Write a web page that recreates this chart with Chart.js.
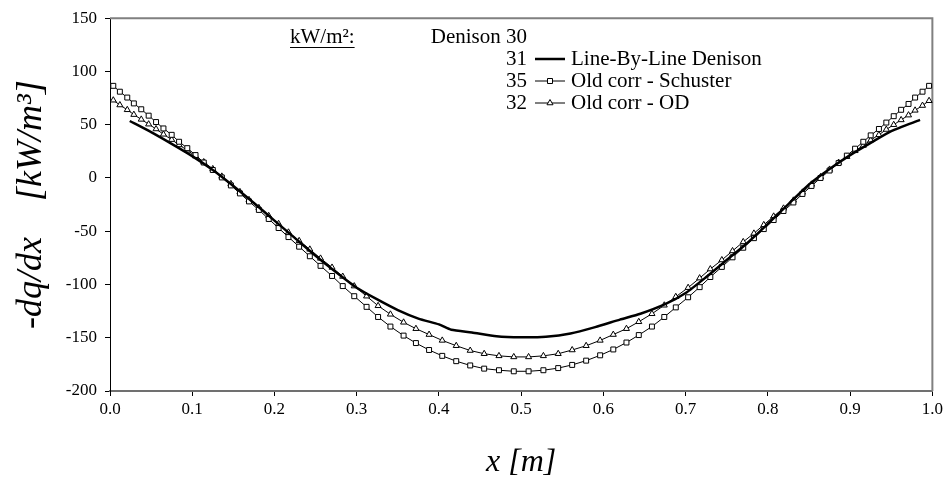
<!DOCTYPE html>
<html>
<head>
<meta charset="utf-8">
<script src="https://cdn.jsdelivr.net/npm/chart.js@4.4.1/dist/chart.umd.min.js"></script>
<style>
  html, body { margin: 0; padding: 0; background: #fff; }
  #chart { display: block; }
</style>
</head>
<body>
<canvas id="chart" width="946" height="497"></canvas>
<script>
// cell centres of the correlation runs (both use the same stretched grid)
var gridX = [
  0.004, 0.012, 0.021, 0.029, 0.038, 0.047, 0.056, 0.065, 0.075, 0.084,
  0.094, 0.104, 0.114, 0.125, 0.136, 0.147, 0.158, 0.169, 0.181, 0.193,
  0.205, 0.217, 0.230, 0.243, 0.256, 0.270, 0.283, 0.297, 0.312, 0.326,
  0.341, 0.357, 0.372, 0.388, 0.404, 0.421, 0.438, 0.455, 0.473, 0.491,
  0.509, 0.527, 0.545, 0.562, 0.579, 0.596, 0.612, 0.628, 0.643, 0.659,
  0.674, 0.688, 0.703, 0.717, 0.730, 0.744, 0.757, 0.770, 0.783, 0.795,
  0.807, 0.819, 0.831, 0.842, 0.853, 0.864, 0.875, 0.886, 0.896, 0.906,
  0.916, 0.925, 0.935, 0.944, 0.953, 0.962, 0.971, 0.979, 0.988, 0.996
];

var schusterY = [
  86.5, 81, 75.5, 70, 64.5, 58.5, 52.5, 46.5, 40.5, 34,
  28, 21.5, 14.5, 7.5, 0.5, -7, -14.5, -22, -30, -38.5,
  -47, -55.5, -64.5, -73.5, -82.5, -92, -101.5, -111, -121, -130.5,
  -139.5, -148, -155, -161.5, -167, -172, -176, -179, -180.5, -181.5,
  -181.5, -180.5, -178.5, -175.5, -171.5, -166.5, -161, -154.5, -147.5, -139.5,
  -130.5, -121.5, -112, -102.5, -93, -83.5, -74.5, -65.5, -56.5, -48,
  -39.5, -31, -23, -15, -7.5, 0, 7, 14, 21, 27.5,
  34, 40, 46, 52, 58, 64, 69.5, 75.5, 81, 86.5
];

var odY = [
  73, 68.5, 64, 59.5, 55, 50.5, 46, 41, 36, 31,
  26, 20.5, 15, 8.5, 1.5, -5.5, -13, -20.5, -28, -35.5,
  -43, -51, -59, -67, -75.5, -84, -92.5, -101.5, -111, -120,
  -128, -135.5, -141.5, -147, -152.5, -157.5, -162, -165, -167, -168,
  -168, -167, -165, -161.5, -157.5, -152.5, -147, -141.5, -135, -127.5,
  -119.5, -111.5, -103, -94, -85.5, -77, -68.5, -60, -52, -44,
  -36, -28.5, -21, -13.5, -6, 1, 8, 14.5, 20, 25.5,
  30.5, 35.5, 40.5, 45.5, 50, 54.5, 59, 63.5, 68, 72.5
];

// line-by-line reference, plain thick line
var lblX = [
  0.024, 0.05, 0.075, 0.1, 0.125, 0.15, 0.175, 0.2, 0.225, 0.25,
  0.275, 0.3, 0.325, 0.35, 0.375, 0.4, 0.415, 0.44, 0.47, 0.5,
  0.53, 0.56, 0.59, 0.62, 0.645, 0.675, 0.7, 0.725, 0.75, 0.775,
  0.8, 0.825, 0.85, 0.875, 0.9, 0.925, 0.95, 0.985
];
var lblY = [
  53.5, 43, 32, 20.5, 7.5, -7.5, -23.5, -40, -56.5, -73,
  -88.5, -103, -114, -124, -132, -137.5, -142.5, -145, -148.5, -149.5,
  -149, -146, -140, -133, -127.5, -118.5, -108, -93, -77, -61,
  -43, -24.5, -6, 8.5, 21.5, 33, 44, 54.5
];

var seriesNames = ['Line-By-Line Denison', 'Old corr - Schuster', 'Old corr - OD'];
var fluxHeader = 'Denison';
var fluxValues = [30, 31, 35, 32];   // kW/m2, first one belongs to the header row

var xTickValues = [0, 0.1, 0.2, 0.3, 0.4, 0.5, 0.6, 0.7, 0.8, 0.9, 1.0];
var yTickValues = [-200, -150, -100, -50, 0, 50, 100, 150];

var serif = '"Liberation Serif", "Times New Roman", serif';
Chart.defaults.font.family = serif;
Chart.defaults.color = '#000';

function pairs(xs, ys) {
  return xs.map(function (x, i) { return { x: x, y: ys[i] }; });
}

// grey frame on top and right, like the spreadsheet plot area
var plotFrame = {
  id: 'plotFrame',
  beforeDatasetsDraw: function (chart) {
    var a = chart.chartArea;
    var ctx = chart.ctx;
    ctx.save();
    ctx.strokeStyle = '#808080';
    ctx.lineWidth = 2;
    ctx.beginPath();
    ctx.moveTo(a.left, a.top);
    ctx.lineTo(a.right, a.top);
    ctx.lineTo(a.right, a.bottom);
    ctx.stroke();
    ctx.restore();
  }
};

function drawMarker(ctx, style, cx, cy) {
  ctx.beginPath();
  if (style === 'rect') {
    ctx.rect(cx - 2.5, cy - 2.5, 5, 5);
  } else if (style === 'triangle') {
    ctx.moveTo(cx, cy - 3.5);
    ctx.lineTo(cx + 3.03, cy + 1.75);
    ctx.lineTo(cx - 3.03, cy + 1.75);
    ctx.closePath();
  }
  ctx.fillStyle = '#fff';
  ctx.fill();
  ctx.lineWidth = 1;
  ctx.stroke();
}

var legendBox = {
  id: 'legendBox',
  afterDraw: function (chart) {
    var ctx = chart.ctx;
    ctx.save();
    ctx.font = '21px ' + serif;
    ctx.fillStyle = '#000';
    ctx.strokeStyle = '#000';
    ctx.textBaseline = 'middle';

    ctx.textAlign = 'left';
    ctx.fillText('kW/m²:', 290, 37);
    var w = ctx.measureText('kW/m²:').width;
    ctx.lineWidth = 1;
    ctx.beginPath();
    ctx.moveTo(290, 47.5);
    ctx.lineTo(290 + w, 47.5);
    ctx.stroke();

    ctx.textAlign = 'right';
    ctx.fillText(fluxHeader + ' ' + fluxValues[0], 527, 37);

    chart.data.datasets.forEach(function (ds, i) {
      var y = 59 + i * 22;
      ctx.fillStyle = '#000';
      ctx.textAlign = 'right';
      ctx.fillText(String(fluxValues[i + 1]), 527, y);
      ctx.lineWidth = ds.borderWidth;
      ctx.beginPath();
      ctx.moveTo(535, y);
      ctx.lineTo(565, y);
      ctx.stroke();
      if (ds.pointRadius > 0) {
        drawMarker(ctx, ds.pointStyle, 550, y);
      }
      ctx.fillStyle = '#000';
      ctx.textAlign = 'left';
      ctx.fillText(ds.label, 571, y);
    });
    ctx.restore();
  }
};

var tickGrid = {
  drawOnChartArea: false,
  drawTicks: true,
  tickLength: 5,
  color: '#000',
  lineWidth: 1
};

new Chart(document.getElementById('chart'), {
  type: 'scatter',
  data: {
    datasets: [
      {
        label: seriesNames[0],
        data: pairs(lblX, lblY),
        showLine: true,
        borderColor: '#000',
        borderWidth: 2.5,
        pointRadius: 0,
        tension: 0.2
      },
      {
        label: seriesNames[1],
        data: pairs(gridX, schusterY),
        showLine: true,
        borderColor: '#000',
        borderWidth: 1,
        pointStyle: 'rect',
        pointRadius: 3.5,
        pointBackgroundColor: '#fff',
        pointBorderColor: '#000',
        pointBorderWidth: 1,
        clip: 6
      },
      {
        label: seriesNames[2],
        data: pairs(gridX, odY),
        showLine: true,
        borderColor: '#000',
        borderWidth: 1,
        pointStyle: 'triangle',
        pointRadius: 3.5,
        pointBackgroundColor: '#fff',
        pointBorderColor: '#000',
        pointBorderWidth: 1,
        clip: 6
      }
    ]
  },
  options: {
    responsive: false,
    animation: false,
    devicePixelRatio: 1,
    layout: { padding: { top: 16, right: 13, left: 0, bottom: 0 } },
    plugins: {
      legend: { display: false },
      tooltip: { enabled: false }
    },
    scales: {
      x: {
        type: 'linear',
        min: 0,
        max: 1,
        afterFit: function (s) { s.height = 106; },
        afterBuildTicks: function (s) {
          s.ticks = xTickValues.map(function (v) { return { value: v }; });
        },
        ticks: {
          callback: function (v) { return v.toFixed(1); },
          font: { size: 17 },
          color: '#000',
          padding: 3,
          maxRotation: 0,
          autoSkip: false
        },
        grid: tickGrid,
        border: { display: true, color: '#707070', width: 2 },
        title: {
          display: true,
          text: 'x [m]',
          font: { size: 32, style: 'italic' },
          color: '#000',
          padding: { top: 0, bottom: 15 }
        }
      },
      y: {
        type: 'linear',
        min: -200,
        max: 150,
        afterFit: function (s) { s.width = 110; },
        afterBuildTicks: function (s) {
          s.ticks = yTickValues.map(function (v) { return { value: v }; });
        },
        ticks: {
          font: { size: 17 },
          color: '#000',
          padding: 8,
          autoSkip: false
        },
        grid: tickGrid,
        border: { display: true, color: '#000', width: 1 },
        title: {
          display: true,
          text: '-dq/dx    [kW/m³]',
          font: { size: 36, style: 'italic' },
          color: '#000',
          padding: { top: 10, bottom: 0 }
        }
      }
    }
  },
  plugins: [plotFrame, legendBox]
});
</script>
</body>
</html>
